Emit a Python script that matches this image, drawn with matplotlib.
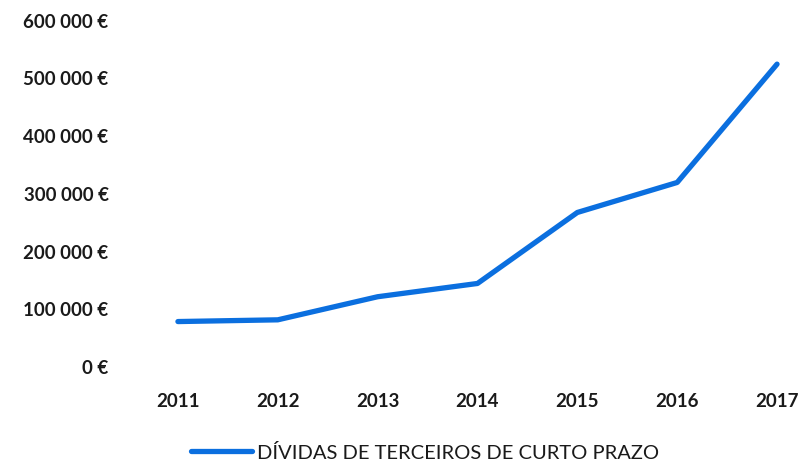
import matplotlib

matplotlib.use('Agg')
from matplotlib import pyplot as plt
from matplotlib import ticker

# Short-term third-party debts per year (euros)
years = [2011, 2012, 2013, 2014, 2015, 2016, 2017]
debts = [77000, 80000, 120000, 143000, 266000, 318000, 523000]
series_label = "DÍVIDAS DE TERCEIROS DE CURTO PRAZO"

line_color = '#0b6fdf'
plt.rcParams['font.family'] = ['Lato', 'DejaVu Sans']

fig = plt.figure(figsize=(8.03, 4.64), dpi=100)
ax = fig.add_axes([128 / 803, 1 - 367 / 464, (803 - 128) / 803, (367 - 20.7) / 464])

ax.plot(years, debts, color=line_color, linewidth=3.8, solid_capstyle='round',
        solid_joinstyle='round', label=series_label)

ax.set_xlim(2010.5, 2017.26)
ax.set_ylim(0, 600000)
ax.set_xticks(years)
ax.set_yticks(range(0, 600001, 100000))


def euro(v, pos):
    return "{:,.0f} €".format(v).replace(",", " ")


ax.yaxis.set_major_formatter(ticker.FuncFormatter(euro))
for side in ['top', 'right', 'bottom', 'left']:
    ax.spines[side].set_visible(False)
ax.tick_params(axis='y', length=0, pad=14, labelsize=13.5, labelcolor='#1a1a1a')
ax.tick_params(axis='x', length=0, pad=19, labelsize=13.5, labelcolor='#1a1a1a')
for lbl in ax.get_xticklabels() + ax.get_yticklabels():
    lbl.set_fontweight('bold')

fig.legend(loc='center', bbox_to_anchor=(425 / 803, 1 - 453 / 464), frameon=False,
           handlelength=3.0, handletextpad=0.25, fontsize=14.5,
           labelcolor='#1a1a1a')

plt.savefig('out.png', dpi=100)
